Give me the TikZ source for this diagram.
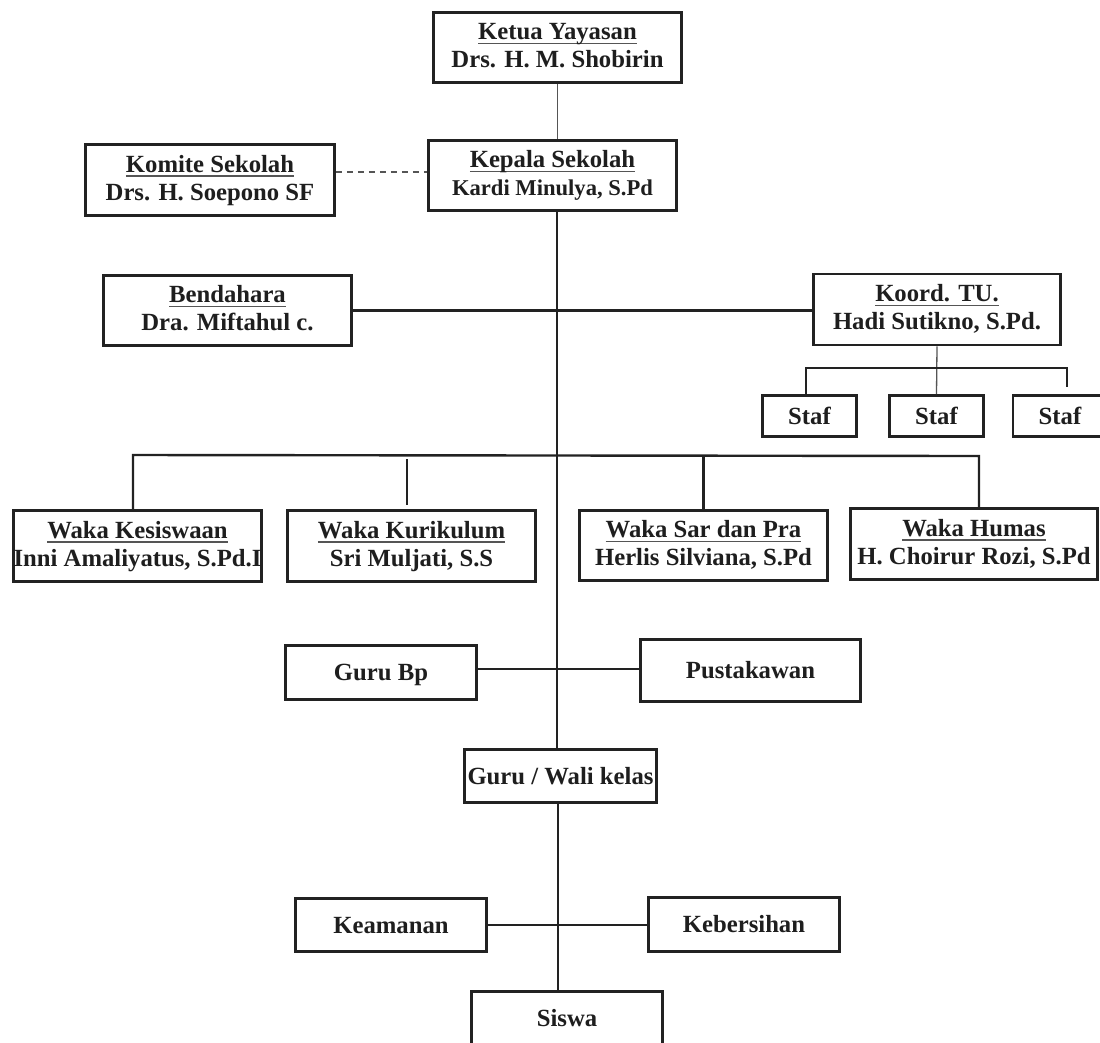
\documentclass[tikz,border=0pt]{standalone}
\usepackage{fontspec}
\setmainfont{Liberation Serif}
\definecolor{ink}{HTML}{1E1E1E}
\definecolor{edge}{HTML}{222222}
\definecolor{thinc}{HTML}{555555}
\newlength\ulwd
\newcommand\ulx[1]{\settowidth\ulwd{#1}\rlap{\color{thinc}\rule[-4.5pt]{\ulwd}{1.5pt}}#1}
\tikzset{
  box/.style={draw=edge, line width=2.6pt, rectangle, inner sep=0pt, align=center,
    text=ink, font=\bfseries\fontsize{24.7}{28}\selectfont},
  bx/.style 2 args={minimum width=#1pt, minimum height=#2pt},
  twoline/.style={text height=44.7pt, text depth=4.7pt},
  oneline/.style={text height=16.7pt, text depth=0pt},
  mainln/.style={draw=edge, line width=2.4pt},
  thinln/.style={draw=thinc, line width=1.3pt},
  dashln/.style={draw=thinc, line width=1.8pt, dash pattern=on 6pt off 5pt}
}
\begin{document}
\begin{tikzpicture}[x=1pt, y=-1pt]
\useasboundingbox (0,0) rectangle (1100,1042);
\fill[white] (0,0) rectangle (1100,1042);

% nodes
\node[box, twoline, bx={248}{70}] (ketua) at (557.5,47.5) {\ulx{Ketua Yayasan}\\Drs. H. M. Shobirin};
\node[box, twoline, bx={248}{70}] (kepala) at (552.5,175.5) {\ulx{Kepala Sekolah}\\{\fontsize{22.6}{28}\selectfont Kardi Minulya, S.Pd}};
\node[box, twoline, bx={249}{71}] (komite) at (210,180) {\ulx{Komite Sekolah}\\Drs. H. Soepono SF};
\node[box, twoline, bx={248}{70}] (bend) at (227.5,310.5) {\ulx{Bendahara}\\Dra. Miftahul c.};
\node[box, twoline, bx={247}{71}] (koord) at (937,309.5) {\ulx{Koord. TU.}\\Hadi Sutikno, S.Pd.};
\node[box, oneline, bx={94}{41}] (staf1) at (809.5,416) {Staf};
\node[box, oneline, bx={94}{41}] (staf2) at (936.5,416) {Staf};
\node[box, oneline, bx={94}{41}] (staf3) at (1060,416) {Staf};
\node[box, twoline, bx={248}{71}] (wkes) at (137.5,546) {\ulx{Waka Kesiswaan}\\Inni Amaliyatus, S.Pd.I};
\node[box, twoline, bx={248}{71}] (wkur) at (411.5,546) {\ulx{Waka Kurikulum}\\Sri Muljati, S.S};
\node[box, twoline, bx={248}{70}] (wsar) at (703.5,545.5) {\ulx{Waka Sar dan Pra}\\Herlis Silviana, S.Pd};
\node[box, twoline, bx={247}{71}] (whum) at (974,544) {\ulx{Waka Humas}\\H. Choirur Rozi, S.Pd};
\node[box, oneline, bx={191}{54}] (gurubp) at (381,672.5) {Guru Bp};
\node[box, oneline, bx={220}{62}] (pust) at (750.5,670.5) {Pustakawan};
\node[box, oneline, bx={192}{53}] (guruwali) at (560.5,776) {Guru / Wali kelas};
\node[box, oneline, bx={191}{53}] (keam) at (391,925) {Keamanan};
\node[box, oneline, bx={191}{54}] (keber) at (744,924.5) {Kebersihan};
\node[box, oneline, bx={191}{54}] (siswa) at (567,1018.5) {Siswa};

% helper coordinates
\coordinate (trk) at (557,0);
\coordinate (trk2) at (558,0);
\coordinate (sb1) at (806,368);
\coordinate (sb2) at (1067,368);
\coordinate (sb3) at (1067,387);
\coordinate (wb1) at (133,455);
\coordinate (wb2) at (979,456);
\coordinate (kd1) at (407,459);
\coordinate (kd2) at (407,505);
\coordinate (gp) at (0,669);

% connectors
\draw[thinln] (ketua.south) -- (ketua.south |- kepala.north);
\draw[dashln] ([yshift=8pt]komite.east) -- ([yshift=8pt]komite.east -| kepala.west);
\draw[mainln] (kepala.south -| trk) -- (guruwali.north -| trk);
\draw[mainln] (bend.east) -- (bend.east -| koord.west);
\draw[thinln] (koord.south) -- (staf2.north);
\draw[mainln] (staf1.north -| sb1) -- (sb1) -- (sb2) -- (sb3);
\draw[mainln] (wkes.north -| wb1) -- (wb1) -- (wb2) -- (whum.north -| wb2);
\draw[mainln] (kd1) -- (kd2);
\draw[mainln] (wsar.north |- 0,455.5) -- (wsar.north);
\draw[mainln] (gurubp.east |- gp) -- (pust.west |- gp);
\draw[mainln] (guruwali.south -| trk2) -- (siswa.north -| trk2);
\draw[mainln] (keam.east) -- (keam.east -| keber.west);
\end{tikzpicture}
\end{document}
